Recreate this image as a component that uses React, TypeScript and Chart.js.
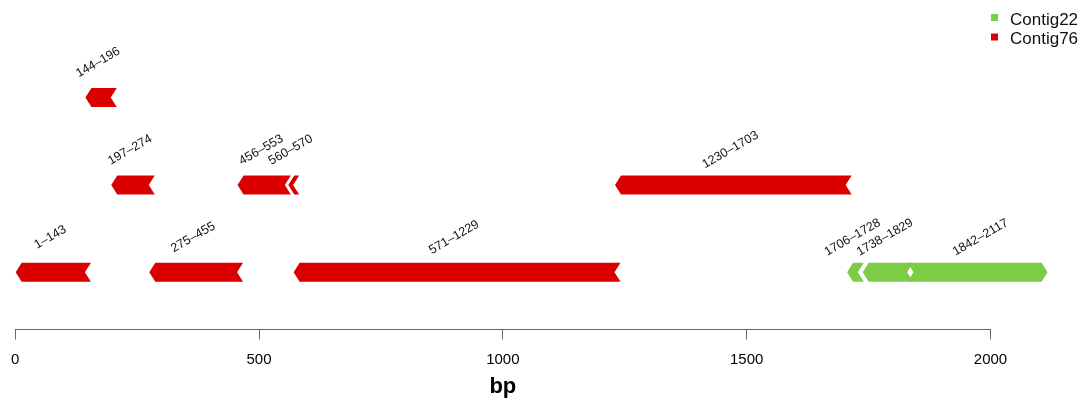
import React, { useEffect, useRef } from "react";
import { Chart, registerables } from "chart.js";

Chart.register(...registerables);

// ---- data ----
const contig76Starts = [1, 144, 197, 275, 456, 560, 571, 1230];
const contig76Ends = [143, 196, 274, 455, 553, 570, 1229, 1703];
const contig76Rows = [1, 3, 2, 1, 2, 2, 1, 2];
const contig76Strands = [-1, -1, -1, -1, -1, -1, -1, -1];

const contig22Starts = [1706, 1738, 1842];
const contig22Ends = [1728, 1829, 2117];
const contig22Rows = [1, 1, 1];
const contig22Strands = [-1, -1, 1];

const seriesNames = ["Contig22", "Contig76"];
const seriesColors = ["#7CCC46", "#DB0000"];
const xTicks = [0, 500, 1000, 1500, 2000];

const FONT = "'Liberation Sans', Arial, Helvetica, sans-serif";

const toData = (starts: number[], ends: number[], rows: number[]) =>
  starts.map((s, i) => ({ x: [s, ends[i]], y: rows[i] }));

const strandsBySeries = [contig22Strands, contig76Strands];
const startsBySeries = [contig22Starts, contig76Starts];
const endsBySeries = [contig22Ends, contig76Ends];

const HEAD = 6;

const chevronPlugin = {
  id: "chevrons",
  beforeDatasetDraw() {
    return false;
  },
  afterDatasetsDraw(chart: any) {
    const ctx = chart.ctx;
    ctx.save();
    chart.data.datasets.forEach((ds: any, di: number) => {
      const meta = chart.getDatasetMeta(di);
      meta.data.forEach((el: any, j: number) => {
        const p = el.getProps(["x", "y", "base", "height"], true);
        const s = Math.min(p.x, p.base);
        const e = Math.max(p.x, p.base);
        const top = p.y - p.height / 2;
        const bot = p.y + p.height / 2;
        const yc = p.y;
        const strand = strandsBySeries[di][j];
        ctx.beginPath();
        if (strand < 0) {
          ctx.moveTo(s, yc);
          ctx.lineTo(s + HEAD, top);
          ctx.lineTo(e + HEAD, top);
          ctx.lineTo(e, yc);
          ctx.lineTo(e + HEAD, bot);
          ctx.lineTo(s + HEAD, bot);
        } else {
          ctx.moveTo(s - HEAD, top);
          ctx.lineTo(e - HEAD, top);
          ctx.lineTo(e, yc);
          ctx.lineTo(e - HEAD, bot);
          ctx.lineTo(s - HEAD, bot);
          ctx.lineTo(s, yc);
        }
        ctx.closePath();
        ctx.fillStyle = ds.backgroundColor;
        ctx.fill();
      });
    });
    // labels
    ctx.fillStyle = "#111";
    ctx.font = `12.5px ${FONT}`;
    ctx.textAlign = "center";
    ctx.textBaseline = "middle";
    chart.data.datasets.forEach((ds: any, di: number) => {
      const meta = chart.getDatasetMeta(di);
      meta.data.forEach((el: any, j: number) => {
        const p = el.getProps(["x", "y", "base"], true);
        const mid = (p.x + p.base) / 2;
        ctx.save();
        ctx.translate(mid, p.y - 35);
        ctx.rotate(-Math.PI / 6);
        ctx.fillText(`${startsBySeries[di][j]}\u2013${endsBySeries[di][j]}`, 0, 0);
        ctx.restore();
      });
    });
    // legend
    ctx.font = `17px ${FONT}`;
    ctx.textAlign = "left";
    ctx.textBaseline = "alphabetic";
    seriesNames.forEach((name, i) => {
      const y = 24.5 + i * 19.5;
      ctx.fillStyle = seriesColors[i];
      ctx.fillRect(991, y - 10.5, 7, 7);
      ctx.fillStyle = "#111";
      ctx.fillText(name, 1010, y);
    });
    ctx.restore();
  },
};

export default function App() {
  const ref = useRef<HTMLCanvasElement | null>(null);
  useEffect(() => {
    if (!ref.current) return;
    Chart.defaults.font.family = FONT;
    const chart = new Chart(ref.current, {
      type: "bar",
      data: {
        datasets: [
          {
            label: seriesNames[0],
            data: toData(contig22Starts, contig22Ends, contig22Rows) as any,
            backgroundColor: seriesColors[0],
          },
          {
            label: seriesNames[1],
            data: toData(contig76Starts, contig76Ends, contig76Rows) as any,
            backgroundColor: seriesColors[1],
          },
        ],
      },
      options: {
        animation: false,
        responsive: true,
        maintainAspectRatio: false,
        indexAxis: "y",
        layout: { padding: { left: 15, right: 95.5, top: 10, bottom: 0 } },
        datasets: { bar: { grouped: false, barThickness: 19 } } as any,
        plugins: { legend: { display: false }, tooltip: { enabled: false } },
        scales: {
          y: { type: "linear", display: false, min: 0.345, max: 4, offset: false, grid: { offset: false } },
          x: {
            type: "linear",
            min: 0,
            max: 2000,
            afterBuildTicks: (axis: any) => {
              axis.ticks = xTicks.map((v) => ({ value: v }));
            },
            ticks: {
              color: "#000",
              font: { size: 15 },
              padding: 11,
              callback: (v: any) => String(v),
            },
            grid: { drawOnChartArea: false, drawTicks: true, tickLength: 10, color: "#666" },
            border: { display: true, color: "#666", width: 1 },
            title: {
              display: true,
              text: "bp",
              color: "#000",
              font: { size: 22, weight: "bold" },
              padding: { top: -6, bottom: 4 },
            },
          },
        },
      },
      plugins: [chevronPlugin],
    } as any);
    return () => chart.destroy();
  }, []);
  return (
    <div style={{ position: "fixed", left: 0, top: 0, width: 1086, height: 404, background: "#fff" }}>
      <canvas ref={ref} />
    </div>
  );
}
